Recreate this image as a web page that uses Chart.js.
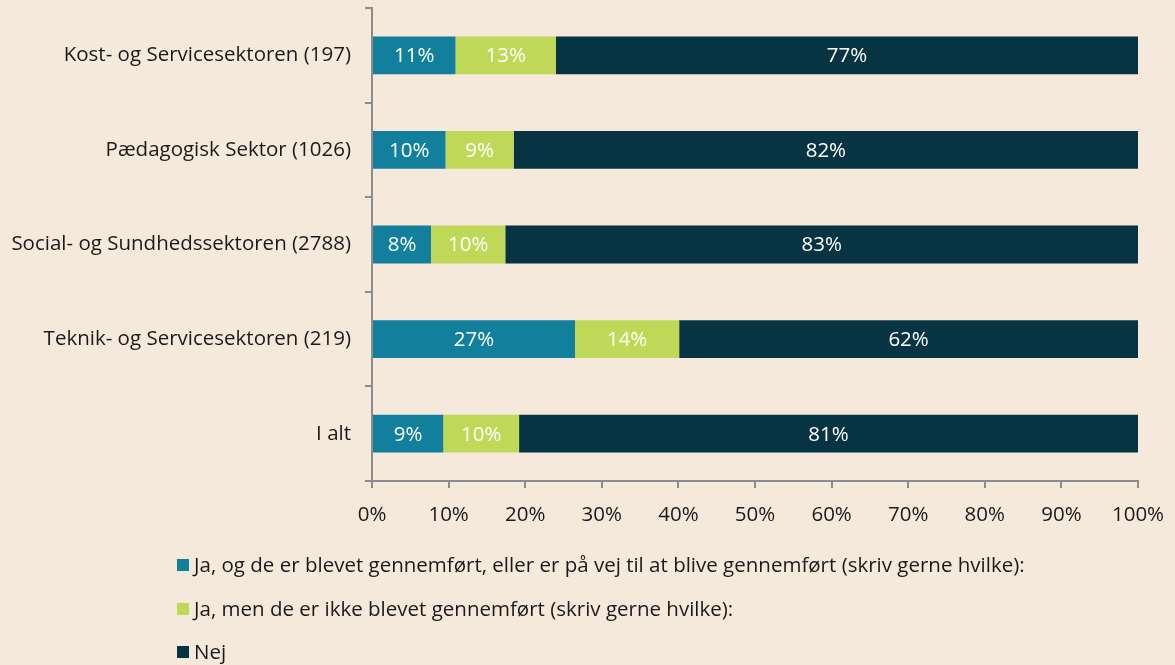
<!DOCTYPE html>
<html>
<head>
<meta charset="utf-8">
<script src="https://cdn.jsdelivr.net/npm/chart.js@4"></script>
<style>
  html, body { margin: 0; padding: 0; background: #f5e9dc; }
  #wrap { width: 1175px; height: 665px; position: relative; }
</style>
</head>
<body>
<div id="wrap"><canvas id="myChart"></canvas></div>
<script>
// categories and series (percent)
var categories = [
    'Kost- og Servicesektoren (197)',
    'Pædagogisk Sektor (1026)',
    'Social- og Sundhedssektoren (2788)',
    'Teknik- og Servicesektoren (219)',
    'I alt'
];
var seriesNames = [
    'Ja, og de er blevet gennemført, eller er på vej til at blive gennemført (skriv gerne hvilke):',
    'Ja, men de er ikke blevet gennemført (skriv gerne hvilke):',
    'Nej'
];
var jaGennemfoert = [10.9, 9.6, 7.7, 26.5, 9.3];
var jaIkke = [13.1, 8.9, 9.7, 13.6, 9.9];
var nej = [76.6, 81.6, 82.7, 61.6, 80.8];
var tickLabels = ['0%', '10%', '20%', '30%', '40%', '50%', '60%', '70%', '80%', '90%', '100%'];

var colors = ['#127f9c', '#bfd857', '#073442'];
var fontFamily = '"Open Sans", "Noto Sans", sans-serif';
var fontSize = 20.5;

document.addEventListener('DOMContentLoaded', function () {
    var canvas = document.getElementById('myChart');
    var ctx = canvas.getContext('2d');

    // white percent labels centred on the visible part of each segment
    var barLabels = {
        id: 'barLabels',
        afterDatasetsDraw: function (chart) {
            var c = chart.ctx;
            var area = chart.chartArea;
            c.save();
            c.fillStyle = '#ffffff';
            c.font = fontSize + 'px ' + fontFamily;
            c.textAlign = 'center';
            c.textBaseline = 'middle';
            chart.data.datasets.forEach(function (ds, i) {
                var meta = chart.getDatasetMeta(i);
                meta.data.forEach(function (bar, j) {
                    var x0 = Math.max(Math.min(bar.base, bar.x), area.left);
                    var x1 = Math.min(Math.max(bar.base, bar.x), area.right);
                    if (x1 <= x0) return;
                    c.fillText(Math.round(ds.data[j]) + '%', (x0 + x1) / 2, bar.y + 1);
                });
            });
            c.restore();
        }
    };

    // vertical legend under the chart
    var stackedLegend = {
        id: 'stackedLegend',
        afterDraw: function (chart) {
            var c = chart.ctx;
            c.save();
            c.font = fontSize + 'px ' + fontFamily;
            c.textBaseline = 'middle';
            c.textAlign = 'left';
            var ys = [565, 609, 652];
            chart.data.datasets.forEach(function (ds, i) {
                c.fillStyle = ds.backgroundColor;
                c.fillRect(177, ys[i] - 6, 12, 12);
                c.fillStyle = '#1a1a1a';
                c.fillText(ds.label, 194, ys[i] + 1);
            });
            c.restore();
        }
    };

    var myChart = new Chart(ctx, {
        type: 'bar',
        data: {
            labels: categories,
            datasets: [
                { label: seriesNames[0], data: jaGennemfoert, backgroundColor: colors[0] },
                { label: seriesNames[1], data: jaIkke, backgroundColor: colors[1] },
                { label: seriesNames[2], data: nej, backgroundColor: colors[2] }
            ]
        },
        options: {
            indexAxis: 'y',
            responsive: true,
            maintainAspectRatio: false,
            animation: false,
            barPercentage: 0.4,
            categoryPercentage: 1,
            layout: {
                padding: { left: 0, right: 37, top: 8, bottom: 130 }
            },
            scales: {
                x: {
                    stacked: true,
                    min: 0,
                    max: 100,
                    grid: {
                        drawOnChartArea: false,
                        drawTicks: true,
                        tickLength: 7,
                        color: '#8c8c8c',
                        lineWidth: 2
                    },
                    border: { display: true, color: '#8c8c8c', width: 2 },
                    ticks: {
                        stepSize: 10,
                        color: '#1a1a1a',
                        font: { size: fontSize, family: fontFamily },
                        padding: 15,
                        maxRotation: 0,
                        callback: function (value, index) { return tickLabels[index]; }
                    },
                    afterFit: function (scale) {
                        scale.height = 54;
                        scale.paddingLeft = 0;
                        scale.paddingRight = 0;
                    }
                },
                y: {
                    stacked: true,
                    grid: {
                        drawOnChartArea: false,
                        drawTicks: true,
                        tickLength: 7,
                        color: '#8c8c8c',
                        lineWidth: 2
                    },
                    border: { display: true, color: '#8c8c8c', width: 2 },
                    ticks: {
                        color: '#1a1a1a',
                        font: { size: fontSize, family: fontFamily },
                        padding: 14
                    },
                    afterFit: function (scale) {
                        scale.width = 372;
                        scale.paddingTop = 0;
                        scale.paddingBottom = 0;
                    }
                }
            },
            plugins: {
                legend: { display: false },
                tooltip: { enabled: false },
                title: { display: false }
            }
        },
        plugins: [barLabels, stackedLegend]
    });
});
</script>
</body>
</html>
